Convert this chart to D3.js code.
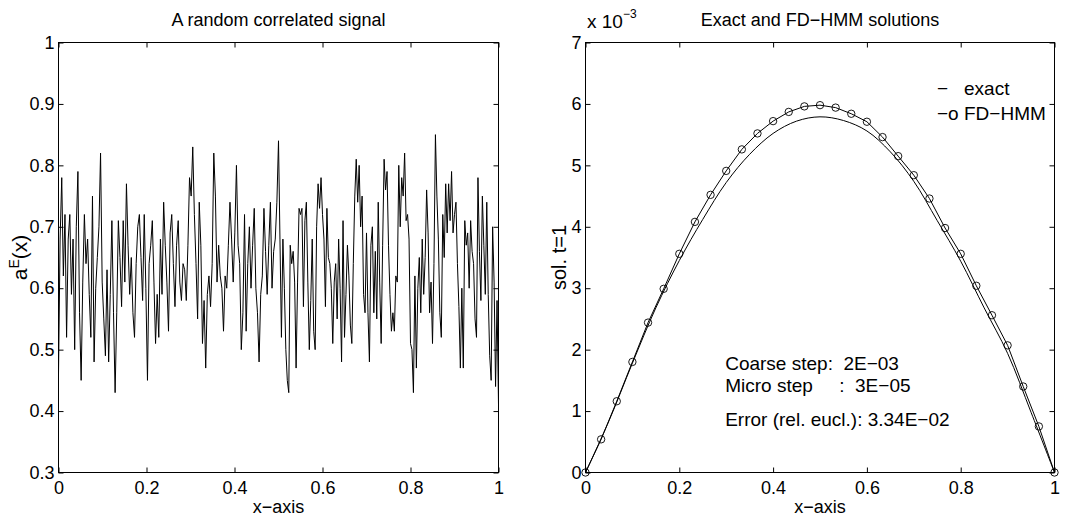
<!DOCTYPE html>
<html>
<head>
<meta charset="utf-8">
<script src="https://cdn.jsdelivr.net/npm/d3@7"></script>
<style>
  body { margin: 0; background: #fff; }
  svg text { font-family: "Liberation Sans", Arial, sans-serif; fill: #000; }
</style>
</head>
<body>
<div id="chart"></div>
<script>
// left panel: signal samples, first half covers x 0..0.5, second half x 0.5..1
const signalA = [0.46,0.68,0.78,0.62,0.72,0.52,0.68,0.72,0.59,0.68,
  0.50,0.70,0.79,0.56,0.45,0.61,0.72,0.64,0.68,0.59,
  0.52,0.75,0.48,0.60,0.65,0.70,0.82,0.61,0.55,0.49,
  0.63,0.48,0.59,0.71,0.56,0.43,0.56,0.71,0.65,0.57,
  0.71,0.61,0.77,0.67,0.59,0.65,0.56,0.52,0.64,0.70,
  0.72,0.65,0.58,0.72,0.60,0.45,0.64,0.67,0.71,0.61,
  0.51,0.59,0.52,0.68,0.59,0.74,0.67,0.61,0.53,0.69,
  0.72,0.64,0.57,0.67,0.71,0.61,0.58,0.64,0.63,0.58,
  0.67,0.78,0.75,0.83,0.72,0.64,0.55,0.74,0.67,0.51,
  0.58,0.47,0.59,0.62,0.57,0.64,0.82,0.75,0.61,0.67,
  0.62,0.60,0.53,0.62,0.60,0.67,0.74,0.68,0.61,0.69,
  0.80,0.67,0.64,0.50,0.56,0.72,0.53,0.64,0.70,0.60,
  0.67,0.73,0.60,0.56,0.48,0.59,0.62,0.73,0.66,0.59,
  0.67,0.74,0.60,0.66,0.68,0.74,0.84];
const signalB = [0.68,0.52,0.68,0.60,0.50,0.45,0.43,0.67,0.64,0.66,
  0.61,0.47,0.61,0.73,0.72,0.73,0.57,0.71,0.74,0.61,
  0.50,0.58,0.68,0.53,0.50,0.70,0.77,0.73,0.78,0.72,
  0.68,0.57,0.73,0.65,0.64,0.60,0.51,0.61,0.64,0.55,
  0.68,0.60,0.48,0.71,0.52,0.59,0.67,0.62,0.54,0.51,
  0.64,0.75,0.81,0.74,0.80,0.70,0.75,0.59,0.56,0.69,
  0.56,0.48,0.67,0.70,0.56,0.66,0.55,0.74,0.61,0.51,
  0.67,0.81,0.76,0.79,0.67,0.59,0.53,0.56,0.53,0.62,
  0.61,0.80,0.70,0.78,0.75,0.82,0.71,0.72,0.68,0.51,
  0.50,0.43,0.62,0.47,0.60,0.65,0.56,0.68,0.59,0.65,
  0.76,0.69,0.56,0.61,0.51,0.64,0.85,0.75,0.68,0.56,
  0.52,0.72,0.65,0.77,0.69,0.77,0.71,0.79,0.69,0.72,
  0.74,0.64,0.57,0.47,0.60,0.47,0.71,0.67,0.69,0.60,
  0.71,0.66,0.64,0.55,0.52,0.78,0.66,0.58,0.75,0.67,
  0.59,0.74,0.59,0.49,0.45,0.70,0.61,0.44,0.58,0.41];

// right panel (units of 1e-3)
const fdHmm = [0, 0.54, 1.16, 1.80, 2.44, 2.99, 3.56, 4.08, 4.52, 4.91, 5.26,
  5.52, 5.72, 5.87, 5.96, 5.98, 5.94, 5.84, 5.71, 5.46, 5.15,
  4.84, 4.46, 3.98, 3.56, 3.04, 2.56, 2.07, 1.40, 0.75, 0]; // x step 1/30
const exact = [0, 0.84, 1.78, 2.68, 3.45, 4.12, 4.72, 5.18, 5.52, 5.72, 5.79,
  5.73, 5.56, 5.22, 4.74, 4.10, 3.44, 2.68, 1.94, 0.98, 0]; // x step 0.05

const xTicks = [0, 0.2, 0.4, 0.6, 0.8, 1];
const leftYTicks = [0.3, 0.4, 0.5, 0.6, 0.7, 0.8, 0.9, 1];
const rightYTicks = [0, 1, 2, 3, 4, 5, 6, 7];

const w = 1066, h = 522;
const yTop = 42.5, yBot = 472.5;
const fs = 18;

const svg = d3.select("#chart").append("svg")
    .attr("width", w)
    .attr("height", h);

const xL = d3.scaleLinear().domain([0, 1]).range([58.5, 498.5]);
const yL = d3.scaleLinear().domain([0.3, 1]).range([yBot, yTop]);
const xR = d3.scaleLinear().domain([0, 1]).range([585.5, 1054.5]);
const yR = d3.scaleLinear().domain([0, 7]).range([yBot, yTop]);

function frame(x, y, yTicks) {
    const g = svg.append("g");
    const fmt = d3.format("~g");
    g.append("g")
        .attr("transform", "translate(0," + yBot + ")")
        .call(d3.axisBottom(x).tickValues(xTicks).tickSizeInner(-5).tickSizeOuter(0).tickPadding(9).tickFormat(fmt));
    g.append("g")
        .attr("transform", "translate(0," + yTop + ")")
        .call(d3.axisTop(x).tickValues(xTicks).tickSizeInner(-5).tickSizeOuter(0).tickFormat(""));
    g.append("g")
        .attr("transform", "translate(" + x.range()[0] + ",0)")
        .call(d3.axisLeft(y).tickValues(yTicks).tickSizeInner(-5).tickSizeOuter(0).tickPadding(4).tickFormat(fmt));
    g.append("g")
        .attr("transform", "translate(" + x.range()[1] + ",0)")
        .call(d3.axisRight(y).tickValues(yTicks).tickSizeInner(-5).tickSizeOuter(0).tickFormat(""));
    g.selectAll(".domain").remove();
    g.selectAll("g").attr("font-family", null).attr("font-size", null);
    g.selectAll("text").style("font-size", fs + "px");
    g.append("rect")
        .attr("x", x.range()[0])
        .attr("y", yTop)
        .attr("width", x.range()[1] - x.range()[0])
        .attr("height", yBot - yTop)
        .attr("fill", "none")
        .attr("stroke", "#000");
}

frame(xL, yL, leftYTicks);
frame(xR, yR, rightYTicks);

// left: signal
const pts = signalA.map((v, i) => [0.5 * i / (signalA.length - 1), v])
    .concat(signalB.map((v, i) => [0.5 + 0.5 * (i + 1) / signalB.length, v]));

svg.append("path")
    .datum(pts)
    .attr("fill", "none")
    .attr("stroke", "#000")
    .attr("stroke-width", 1)
    .attr("d", d3.line().x(d => xL(d[0])).y(d => yL(d[1])));

// right: exact + FD-HMM
svg.append("path")
    .datum(exact)
    .attr("fill", "none")
    .attr("stroke", "#000")
    .attr("stroke-width", 1)
    .attr("d", d3.line().x((d, i) => xR(i / 20)).y(d => yR(d)).curve(d3.curveCatmullRom));

svg.append("path")
    .datum(fdHmm)
    .attr("fill", "none")
    .attr("stroke", "#000")
    .attr("stroke-width", 1)
    .attr("d", d3.line().x((d, i) => xR(i / 30)).y(d => yR(d)));

svg.selectAll(".mk")
    .data(fdHmm)
    .enter()
    .append("circle")
    .attr("class", "mk")
    .attr("cx", (d, i) => xR(i / 30))
    .attr("cy", d => yR(d))
    .attr("r", 3.7)
    .attr("fill", "none")
    .attr("stroke", "#000")
    .attr("stroke-width", 0.9);

// titles & labels
svg.append("text").attr("x", xL(0.5)).attr("y", 26).attr("text-anchor", "middle")
    .style("font-size", "18px").text("A random correlated signal");
svg.append("text").attr("x", xR(0.5)).attr("y", 26).attr("text-anchor", "middle")
    .style("font-size", "18px").text("Exact and FD\u2212HMM solutions");
svg.append("text").attr("x", xL(0.5)).attr("y", 513).attr("text-anchor", "middle")
    .style("font-size", "18px").text("x\u2212axis");
svg.append("text").attr("x", xR(0.5)).attr("y", 513).attr("text-anchor", "middle")
    .style("font-size", "18px").text("x\u2212axis");

const ylab = svg.append("text")
    .attr("transform", "translate(27," + (yTop + yBot) / 2 + ") rotate(-90)")
    .attr("text-anchor", "middle")
    .style("font-size", "21px");
ylab.append("tspan").text("a");
ylab.append("tspan").attr("dy", -8).style("font-size", "14px").text("E");
ylab.append("tspan").attr("dy", 8).text("(x)");

svg.append("text")
    .attr("transform", "translate(566," + (yTop + yBot) / 2 + ") rotate(-90)")
    .attr("text-anchor", "middle")
    .style("font-size", "20px")
    .text("sol. t=1");

const mult = svg.append("text").attr("x", 587).attr("y", 28).style("font-size", "19px");
mult.append("tspan").text("x 10");
mult.append("tspan").attr("dy", -10).style("font-size", "12px").text("\u22123");

// legend
const legend = [["\u2212", "exact", 95], ["\u2212o", "FD\u2212HMM", 120]];
legend.forEach(l => {
    svg.append("text").attr("x", 937).attr("y", l[2]).style("font-size", "19px").text(l[0]);
    svg.append("text").attr("x", 964).attr("y", l[2]).style("font-size", "19px").text(l[1]);
});

// annotations
const notes = [["Coarse step:  2E\u221203", 370], ["Micro step     :  3E\u221205", 392], ["Error (rel. eucl.): 3.34E\u221202", 426]];
notes.forEach(n => {
    svg.append("text").attr("x", xR(0.3) - 1).attr("y", n[1])
        .style("font-size", "19px").style("white-space", "pre").text(n[0]);
});
</script>
</body>
</html>
